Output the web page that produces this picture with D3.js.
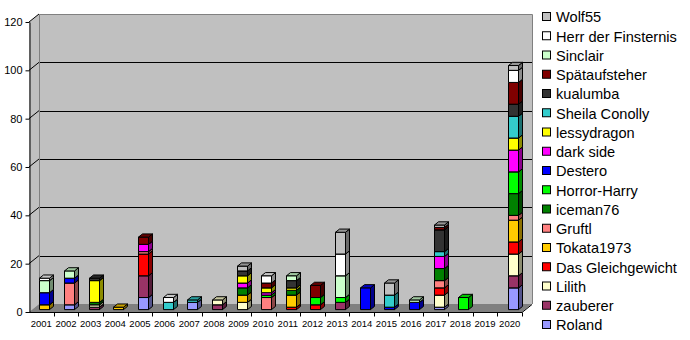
<!DOCTYPE html>
<html>
<head>
<meta charset="utf-8">
<script src="https://cdn.jsdelivr.net/npm/d3@7"></script>
<style>
  html, body { margin: 0; padding: 0; background: #fff; }
  svg { display: block; }
  text { font-family: Arial, "Liberation Sans", sans-serif; fill: #000; }
</style>
</head>
<body>
<svg id="chart" width="690" height="340"></svg>
<script>
// Reviews per year and member (stacked, bottom to top)
const years = ["2001","2002","2003","2004","2005","2006","2007","2008","2009","2010",
               "2011","2012","2013","2014","2015","2016","2017","2018","2019","2020"];
const yTicks = [0, 20, 40, 60, 80, 100, 120];

//                   01 02 03 04 05 06 07 08 09 10 11 12 13 14 15 16 17 18 19 20
const roland      = [0, 2, 0, 0, 5, 0, 3, 0, 0, 0, 0, 0, 0, 0, 0, 0, 1, 0, 0, 9];
const zauberer    = [0, 0, 1, 0, 9, 0, 0, 2, 0, 0, 0, 0, 3, 0, 0, 0, 0, 0, 0, 5];
const lilith      = [0, 0, 1, 0, 0, 0, 0, 2, 3, 0, 0, 0, 0, 0, 0, 0, 5, 0, 0, 9];
const gleichgew   = [0, 0, 0, 0, 9, 0, 0, 0, 0, 0, 1, 2, 0, 0, 0, 0, 3, 0, 0, 5];
const tokata      = [2, 0, 0, 1, 0, 0, 0, 0, 3, 0, 5, 0, 0, 0, 0, 0, 0, 0, 0, 9];
const gruftl      = [0, 9, 0, 0, 1, 0, 0, 0, 0, 5, 0, 0, 0, 0, 0, 0, 3, 0, 0, 2];
const iceman      = [0, 0, 1, 0, 0, 0, 0, 0, 3, 0, 2, 0, 0, 0, 0, 0, 5, 0, 0, 9];
const horrorHarry = [0, 0, 0, 0, 0, 0, 0, 0, 0, 1, 0, 3, 2, 0, 0, 0, 0, 5, 0, 9];
const destero     = [5, 2, 0, 0, 0, 0, 0, 0, 0, 0, 0, 0, 0, 9, 1, 3, 0, 0, 0, 0];
const darkSide    = [0, 0, 0, 0, 3, 0, 0, 0, 2, 1, 0, 0, 0, 0, 0, 0, 5, 0, 0, 9];
const lessydragon = [0, 0, 9, 0, 0, 0, 0, 0, 3, 2, 1, 0, 0, 0, 0, 0, 0, 0, 0, 5];
const sheila      = [0, 0, 0, 0, 0, 3, 1, 0, 0, 0, 0, 0, 0, 0, 5, 0, 2, 0, 0, 9];
const kualumba    = [0, 0, 1, 0, 0, 0, 0, 0, 2, 0, 3, 0, 0, 0, 0, 0, 9, 0, 0, 5];
const spaet       = [0, 0, 0, 0, 3, 0, 0, 0, 0, 2, 0, 5, 0, 0, 0, 0, 1, 0, 0, 9];
const sinclair    = [5, 3, 0, 0, 0, 0, 0, 0, 0, 0, 2, 0, 9, 0, 0, 1, 0, 0, 0, 0];
const herr        = [1, 0, 0, 0, 0, 2, 0, 0, 0, 3, 0, 0, 9, 0, 0, 0, 0, 0, 0, 5];
const wolf55      = [0, 0, 0, 0, 0, 0, 0, 0, 2, 0, 0, 0, 9, 0, 5, 0, 1, 0, 0, 2];

const seriesNames = ["Roland","zauberer","Lilith","Das Gleichgewicht","Tokata1973","Gruftl",
  "iceman76","Horror-Harry","Destero","dark side","lessydragon","Sheila Conolly",
  "kualumba","Spätaufsteher","Sinclair","Herr der Finsternis","Wolf55"];
const seriesValues = [roland, zauberer, lilith, gleichgew, tokata, gruftl, iceman,
  horrorHarry, destero, darkSide, lessydragon, sheila, kualumba, spaet, sinclair, herr, wolf55];
const seriesColors = ["#9999FF","#993366","#FFFFCC","#FF0000","#FFCC00","#FF8080",
  "#008000","#00FF00","#0000FF","#FF00FF","#FFFF00","#33CCCC",
  "#333333","#800000","#CCFFCC","#FFFFFF","#C0C0C0"];

// Layout
const svg = d3.select("#chart");
const plotLeft = 29, plotRight = 522, plotBottom = 312, plotTop = 22;
const DX = 10, DY = -8;              // depth of the floor / walls
const barFront = 0.3, barDepth = 0.4; // bars sit in the middle of the depth
const barW = 10;

const x = d3.scaleBand().domain(years).range([plotLeft, plotRight]).padding(0);
const y = d3.scaleLinear().domain([0, 120]).range([plotBottom, plotTop]);

const wallFill = "#C0C0C0", floorFill = "#808080", edge = "#808080";

// Side wall
svg.append("polygon")
  .attr("points", [[plotLeft, y(120)], [plotLeft + DX, y(120) + DY], [plotLeft + DX, plotBottom + DY], [plotLeft, plotBottom]].join(" "))
  .attr("fill", wallFill);
// Back wall
svg.append("rect")
  .attr("x", plotLeft + DX).attr("y", y(120) + DY)
  .attr("width", plotRight - plotLeft).attr("height", y(0) - y(120))
  .attr("fill", wallFill);
// Floor
svg.append("polygon")
  .attr("points", [[plotLeft, plotBottom], [plotLeft + DX, plotBottom + DY], [plotRight + DX, plotBottom + DY], [plotRight, plotBottom]].join(" "))
  .attr("fill", floorFill);

// Gridlines: back wall + side wall diagonals
const grid = svg.append("g").attr("stroke", "#000").attr("stroke-width", 1).attr("fill", "none");
grid.selectAll("line.back").data(yTicks.filter(v => v > 0 && v < 120)).join("line")
  .attr("class", "back")
  .attr("x1", plotLeft + DX).attr("x2", plotRight + DX)
  .attr("y1", v => Math.round(y(v) + DY) + 0.5).attr("y2", v => Math.round(y(v) + DY) + 0.5);
grid.selectAll("line.side").data(yTicks.filter(v => v > 0)).join("line")
  .attr("class", "side")
  .attr("x1", plotLeft).attr("y1", v => y(v))
  .attr("x2", plotLeft + DX).attr("y2", v => y(v) + DY);

// Wall edges
svg.append("path")
  .attr("d", `M${plotLeft + DX + 0.5},${plotBottom + DY}V${y(120) + DY + 0.5}H${plotRight + DX + 0.5}V${plotBottom + DY}`)
  .attr("fill", "none").attr("stroke", edge);

// Stacked 3D columns
const stacks = years.map((yr, i) => {
  let base = 0;
  return seriesValues.map((vals, s) => {
    const seg = { year: yr, s, y0: base, y1: base + vals[i] };
    base += vals[i];
    return seg;
  }).filter(d => d.y1 > d.y0);
});

const fdx = DX * barFront, fdy = DY * barFront;
const bdx = DX * barDepth, bdy = DY * barDepth;

function shade(c, k) {
  const col = d3.rgb(c);
  return d3.rgb(col.r * k, col.g * k, col.b * k).formatHex();
}

const bars = svg.append("g").attr("stroke", "#000").attr("stroke-width", 1).attr("stroke-linejoin", "miter");
stacks.forEach(segs => {
  segs.forEach(d => {
    const x0 = Math.round(x(d.year) + x.bandwidth() / 2 - barW / 2 + fdx) + 0.5;
    const x1 = x0 + barW;
    const yb = y(d.y0) + fdy, yt = y(d.y1) + fdy;
    const g = bars.append("g");
    const c = seriesColors[d.s];
    // front
    g.append("polygon")
      .attr("points", [[x0, yb], [x1, yb], [x1, yt], [x0, yt]].join(" "))
      .attr("fill", c);
    // side
    g.append("polygon")
      .attr("points", [[x1, yb], [x1 + bdx, yb + bdy], [x1 + bdx, yt + bdy], [x1, yt]].join(" "))
      .attr("fill", shade(c, 0.55));
    // top
    g.append("polygon")
      .attr("points", [[x0, yt], [x1, yt], [x1 + bdx, yt + bdy], [x0 + bdx, yt + bdy]].join(" "))
      .attr("fill", shade(c, 0.78));
  });
});

// Value axis
const yAxis = svg.append("g")
  .attr("transform", `translate(${plotLeft + 0.5},0)`)
  .call(d3.axisLeft(y).tickValues(yTicks).tickSize(4).tickPadding(3).tickSizeOuter(0));
yAxis.select(".domain").attr("stroke", "#000");
yAxis.selectAll("line").attr("stroke", "#000");
yAxis.selectAll("text").attr("font-size", 11);

// Category axis
const xAxis = svg.append("g")
  .attr("transform", `translate(0,${plotBottom + 0.5})`)
  .call(d3.axisBottom(x).tickSize(0).tickPadding(8).tickSizeOuter(0));
xAxis.select(".domain").remove();
xAxis.selectAll("text").attr("font-size", 9.5);
xAxis.append("path")
  .attr("d", `M${plotLeft},0H${plotRight}L${plotRight + DX},${DY}`)
  .attr("stroke", "#000").attr("fill", "none");
xAxis.selectAll("line.bound").data(years).join("line")
  .attr("class", "bound")
  .attr("x1", (d, i) => Math.round(plotLeft + x.step() * (i + 1)) + 0.5)
  .attr("x2", (d, i) => Math.round(plotLeft + x.step() * (i + 1)) + 0.5)
  .attr("y1", 0).attr("y2", 4).attr("stroke", "#000");

// Legend (top entry = top of stack)
const legendItems = seriesNames.map((n, i) => ({ name: n, color: seriesColors[i] })).reverse();
const legend = svg.append("g").attr("transform", "translate(542,17)");
const item = legend.selectAll("g").data(legendItems).join("g")
  .attr("transform", (d, i) => `translate(0,${i * 19.25})`);
item.append("rect")
  .attr("x", 0.5).attr("y", -4.5).attr("width", 8).attr("height", 8)
  .attr("fill", d => d.color).attr("stroke", "#000");
item.append("text")
  .attr("x", 14).attr("y", 0).attr("dy", "0.36em")
  .attr("font-size", 14.6)
  .text(d => d.name);
</script>
</body>
</html>
